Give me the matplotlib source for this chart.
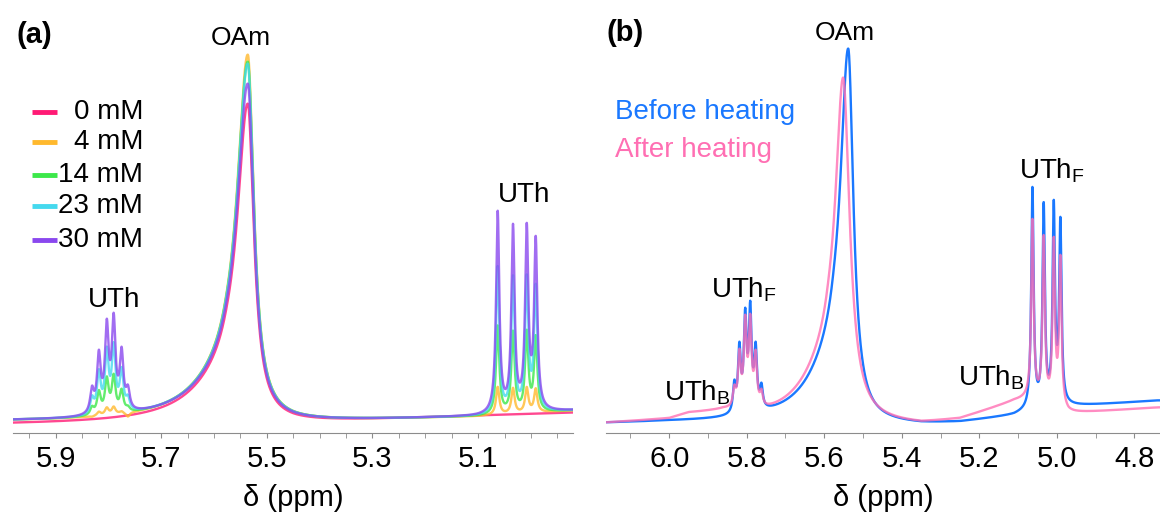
import numpy as np
import matplotlib.pyplot as plt

plt.rcParams['font.family'] = ['Liberation Sans', 'DejaVu Sans']
plt.rcParams['mathtext.fontset'] = 'custom'
plt.rcParams['mathtext.rm'] = 'Liberation Sans'

# ---- (a) UTh concentration series (heights in px above the axis line) ----
conc_labels = ['0 mM', '4 mM', '14 mM', '23 mM', '30 mM']
conc_colors = ['#ff1a75', '#ffb92e', '#3ce84a', '#45d9ee', '#8a48ee']
oam_a_ppm = 5.536
oam_a_height = [329, 378, 371, 369, 349]
uth_scale = [0.0, 0.14, 0.44, 0.73, 1.0]          # UTh intensity relative to 30 mM
uth_left_ppm = [5.831, 5.818, 5.803, 5.790, 5.775, 5.763]
uth_left_30 = [47, 83, 114, 120, 86, 48]
uth_right_ppm = [5.063, 5.034, 5.008, 4.991]
uth_right_30 = [222, 209, 210, 197]
base_a_ppm = [5.98, 5.45, 5.10, 4.92]
base_a = [11, 11, 16, 22]
base_a_0mM = [8, 10, 17, 20]

# ---- (b) before / after heating ----
heat_labels = ['Before heating', 'After heating']
heat_colors = ['#1a78ff', '#ff6fb3']
oam_b_ppm = [5.538, 5.551]
oam_b_height = [384, 355]
uthf_left_ppm = [5.832, 5.819, 5.804, 5.791, 5.777, 5.762]
uthf_left_h = [[53, 91, 125, 132, 91, 50], [48, 84, 118, 119, 83, 44]]
uthf_right_ppm = [5.063, 5.034, 5.008, 4.991]
uthf_right_h = [[246, 231, 233, 216], [214, 198, 196, 178]]
base_b_ppm = [6.16, 6.00, 5.95, 5.86, 5.76, 5.35, 5.25, 5.11, 5.075, 4.97, 4.74]
base_b = [[9, 10, 10, 10, 10, 8, 10, 17, 21, 26, 32],
          [9, 12, 17, 18, 11, 8, 13, 31, 33, 19, 25]]


def lor(x, x0, wl, wr):
    # split lorentzian, wl is the high-ppm side
    w = np.where(x > x0, wl, wr)
    return 1.0 / (1.0 + ((x - x0) / w) ** 2)


def trace(x, bppm, bval, comps, targets, broad):
    bp = np.array(bppm)[::-1]
    bv = np.array(bval, dtype=float)[::-1]
    base = lambda z: np.interp(z, bp, bv)
    bc, ba, bwl, bwr = broad
    brd = lambda z: ba * lor(z, bc, bwl, bwr)
    cen = np.array([c[0] for c in comps])
    A = np.array([[lor(np.array(ci), *cj) for cj in comps] for ci in cen])
    rhs = np.array(targets) - base(cen) - brd(cen)
    amps = np.linalg.solve(A, rhs)
    y = base(x) + brd(x)
    for a, c in zip(amps, comps):
        y = y + a * lor(x, *c)
    return y


fig = plt.figure(figsize=(11.6, 5.21), dpi=100)
ax_a = fig.add_axes([13.3 / 1160, (521 - 432.7) / 521, 559.4 / 1160, 432.7 / 521])
ax_b = fig.add_axes([606 / 1160, (521 - 432.7) / 521, 554 / 1160, 432.7 / 521])

# panel (a)
xa = np.linspace(5.98, 4.921, 4000)
bp_rev = np.array(base_a_ppm)[::-1]
for k in range(len(conc_labels)):
    bvals = base_a_0mM if k == 0 else base_a
    comps = [(oam_a_ppm, 0.025, 0.014)]
    tg = [oam_a_height[k]]
    if uth_scale[k] > 0:
        comps += [(p, 0.0042, 0.0042) for p in uth_left_ppm]
        comps += [(p, 0.0037, 0.0037) for p in uth_right_ppm]
        for p, h in zip(uth_left_ppm + uth_right_ppm, uth_left_30 + uth_right_30):
            b30 = np.interp(p, bp_rev, np.array(base_a)[::-1])
            bk = np.interp(p, bp_rev, np.array(bvals)[::-1])
            tg.append(bk + uth_scale[k] * (h - b30))
    y = trace(xa, base_a_ppm, bvals, comps, tg, (5.58, 30, 0.08, 0.03))
    ax_a.plot(xa, y, color=conc_colors[k], lw=1.7, alpha=0.8)

# legend of panel (a)
for k, (lab, col) in enumerate(zip(conc_labels, conc_colors)):
    yy = [321, 290.4, 257.7, 226.7, 192.7][k]
    ax_a.plot([5.945, 5.897], [yy, yy], color=col, lw=3.5, solid_capstyle='butt')
    ax_a.text(5.734, yy, lab, ha='right', va='center', fontsize=20)

ax_a.text(0.006, 0.919, '(a)', transform=ax_a.transAxes, fontsize=21,
          fontweight='bold', ha='left', va='center')
ax_a.text(5.55, 394.7, 'OAm', ha='center', va='center', fontsize=19)
ax_a.text(5.79, 132.7, 'UTh', ha='center', va='center', fontsize=20)
ax_a.text(5.0124, 237.7, 'UTh', ha='center', va='center', fontsize=20)

ax_a.set_xlim(5.98, 4.921)
ax_a.set_xticks([5.9, 5.7, 5.5, 5.3, 5.1])
ax_a.set_xticks(np.arange(4.95, 5.99, 0.05), minor=True)

# panel (b)
xb = np.linspace(6.163, 4.734, 4000)
for k in range(len(heat_labels)):
    comps = [(oam_b_ppm[k], 0.025, 0.016 if k == 0 else 0.02)]
    comps += [(p, 0.0042, 0.0042) for p in uthf_left_ppm]
    comps += [(p, 0.0037, 0.0037) for p in uthf_right_ppm]
    tg = [oam_b_height[k]] + uthf_left_h[k] + uthf_right_h[k]
    y = trace(xb, base_b_ppm, base_b[k], comps, tg,
              (oam_b_ppm[k] + 0.042, 45, 0.08, 0.03))
    ax_b.plot(xb, y, color=heat_colors[k], lw=1.7, alpha=1.0 if k == 0 else 0.8)

ax_b.text(0.0, 0.924, '(b)', transform=ax_b.transAxes, fontsize=21,
          fontweight='bold', ha='left', va='center')
ax_b.text(5.547, 399.7, 'OAm', ha='center', va='center', fontsize=19)
ax_b.text(6.140, 321, heat_labels[0], color=heat_colors[0], ha='left',
          va='center', fontsize=20)
ax_b.text(6.140, 282.7, heat_labels[1], color=heat_colors[1], ha='left',
          va='center', fontsize=20)
ax_b.text(5.928, 40, 'UTh$_\\mathregular{B}$', ha='center', va='center', fontsize=20)
ax_b.text(5.807, 143, 'UTh$_\\mathregular{F}$', ha='center', va='center', fontsize=20)
ax_b.text(5.169, 55, 'UTh$_\\mathregular{B}$', ha='center', va='center', fontsize=20)
ax_b.text(5.014, 262, 'UTh$_\\mathregular{F}$', ha='center', va='center', fontsize=20)

ax_b.set_xlim(6.163, 4.734)
ax_b.set_xticks([6.0, 5.8, 5.6, 5.4, 5.2, 5.0, 4.8])
ax_b.set_xticks([6.1, 5.9, 5.7, 5.5, 5.3, 5.1, 4.9], minor=True)

for ax in (ax_a, ax_b):
    ax.set_ylim(0, 432.7)
    ax.set_yticks([])
    for s in ('left', 'right', 'top'):
        ax.spines[s].set_visible(False)
    ax.spines['bottom'].set_color('#8c8c8c')
    ax.tick_params(axis='x', which='both', direction='out', length=3.5,
                   color='#8c8c8c', labelsize=21, pad=5)
    ax.set_xlabel('δ (ppm)', fontsize=21, labelpad=8)
    ax.patch.set_alpha(0)

fig.savefig('out.png', dpi=100)
